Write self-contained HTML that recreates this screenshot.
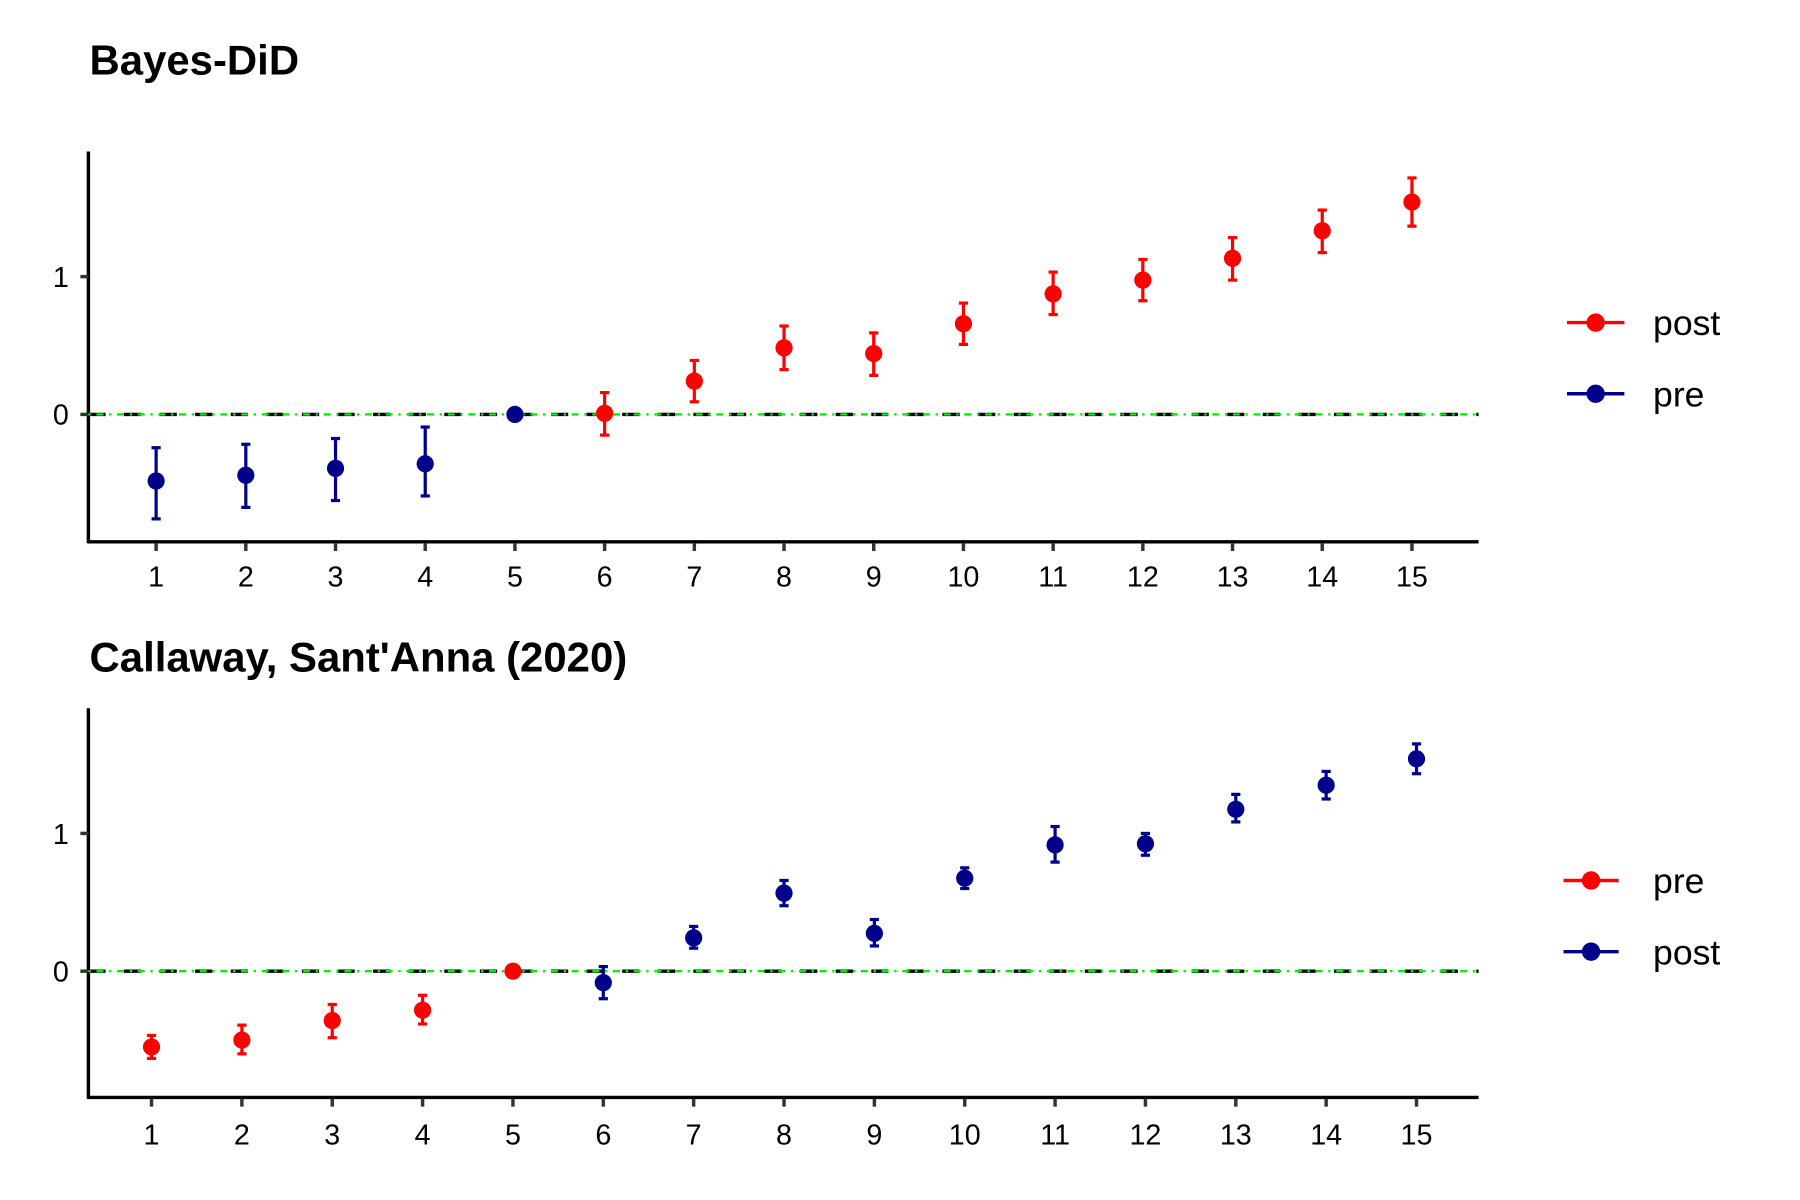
<!DOCTYPE html>
<html><head><meta charset="utf-8"><style>html,body{margin:0;padding:0;background:#fff}svg{display:block}</style></head>
<body>
<svg width="1800" height="1200" viewBox="0 0 1568 1045.33" xmlns="http://www.w3.org/2000/svg" font-family="Liberation Sans, sans-serif">
<rect width="1568" height="1046" fill="#fff"/>
<text x="78" y="65" font-size="36.5" font-weight="bold">Bayes-DiD</text>
<line x1="77" y1="132" x2="77" y2="473" stroke="#000" stroke-width="3"/>
<line x1="76" y1="472" x2="1288" y2="472" stroke="#000" stroke-width="3"/>
<g stroke="#333" stroke-width="3"><line x1="70" y1="241" x2="77" y2="241"/><line x1="70" y1="361" x2="77" y2="361"/></g>
<g font-size="25" text-anchor="end"><text x="60" y="250">1</text><text x="60" y="370">0</text></g>
<line x1="77" y1="361" x2="1288" y2="361" stroke="#000" stroke-width="3" stroke-dasharray="15 16"/>
<line x1="77" y1="361" x2="1288" y2="361" stroke="#00ee00" stroke-width="2" stroke-dasharray="2 5 6 5"/>
<text x="78" y="585" font-size="36.5" font-weight="bold">Callaway, Sant'Anna (2020)</text>
<line x1="77" y1="617" x2="77" y2="957" stroke="#000" stroke-width="3"/>
<line x1="76" y1="956" x2="1288" y2="956" stroke="#000" stroke-width="3"/>
<g stroke="#333" stroke-width="3"><line x1="70" y1="726" x2="77" y2="726"/><line x1="70" y1="846" x2="77" y2="846"/></g>
<g font-size="25" text-anchor="end"><text x="60" y="735">1</text><text x="60" y="855">0</text></g>
<line x1="77" y1="846" x2="1288" y2="846" stroke="#000" stroke-width="3" stroke-dasharray="15 16"/>
<line x1="77" y1="846" x2="1288" y2="846" stroke="#00ee00" stroke-width="2" stroke-dasharray="2 5 6 5"/>
<g font-size="31">
<line x1="1365" y1="281" x2="1415" y2="281" stroke="#f00" stroke-width="3"/><circle cx="1390" cy="281" r="8" fill="#f00"/><text x="1440" y="292">post</text>
<line x1="1365" y1="343" x2="1415" y2="343" stroke="#00008b" stroke-width="3"/><circle cx="1390" cy="343" r="8" fill="#00008b"/><text x="1440" y="354">pre</text>
<line x1="1362" y1="767" x2="1410" y2="767" stroke="#f00" stroke-width="3"/><circle cx="1386" cy="767" r="8" fill="#f00"/><text x="1440" y="778">pre</text>
<line x1="1362" y1="829" x2="1410" y2="829" stroke="#00008b" stroke-width="3"/><circle cx="1386" cy="829" r="8" fill="#00008b"/><text x="1440" y="840">post</text>
</g>
<script>
(function(){
var NS="http://www.w3.org/2000/svg",svg=document.querySelector('svg');
function el(t,a,tx){var e=document.createElementNS(NS,t);for(var k in a)e.setAttribute(k,a[k]);if(tx)e.textContent=tx;svg.appendChild(e);return e;}
var R="#ff0000",B="#00008b";
var d1=[[419,390,452,B],[414,387,442,B],[408,382,436,B],[404,372,432,B],[361,null,null,B],[360,342,379,R],[332,314,350,R],[303,284,322,R],[308,290,327,R],[282,264,300,R],[256,237,274,R],[244,226,262,R],[225,207,244,R],[201,183,220,R],[176,155,197,R]];
var d2=[[912,902,922,R],[906,893,918,R],[889,875,904,R],[880,867,892,R],[846,null,null,R],[856,842,870,B],[817,807,826,B],[778,767,789,B],[813,801,824,B],[765,756,774,B],[736,720,751,B],[735,726,745,B],[705,692,716,B],[684,672,696,B],[661,648,674,B]];
function panel(d,x0,dx,ay,ly){
 for(var i=0;i<15;i++){var x=x0+i*dx;
  el('line',{x1:x,y1:ay+1,x2:x,y2:ay+8,stroke:'#333','stroke-width':3});
  el('text',{x:x,y:ly,'font-size':25,'text-anchor':'middle'},String(i+1));
  var p=d[i];
  if(p[1]!==null){el('line',{x1:x,y1:p[1],x2:x,y2:p[2],stroke:p[3],'stroke-width':2.8});
   el('line',{x1:x-4,y1:p[1],x2:x+4,y2:p[1],stroke:p[3],'stroke-width':2.8});
   el('line',{x1:x-4,y1:p[2],x2:x+4,y2:p[2],stroke:p[3],'stroke-width':2.8});}
  el('circle',{cx:x,cy:p[0],r:7.5,fill:p[3]});
 }}
panel(d1,136,78.14,472,511);
panel(d2,132,78.71,956,997);
})();
</script>
</svg>
</body></html>
